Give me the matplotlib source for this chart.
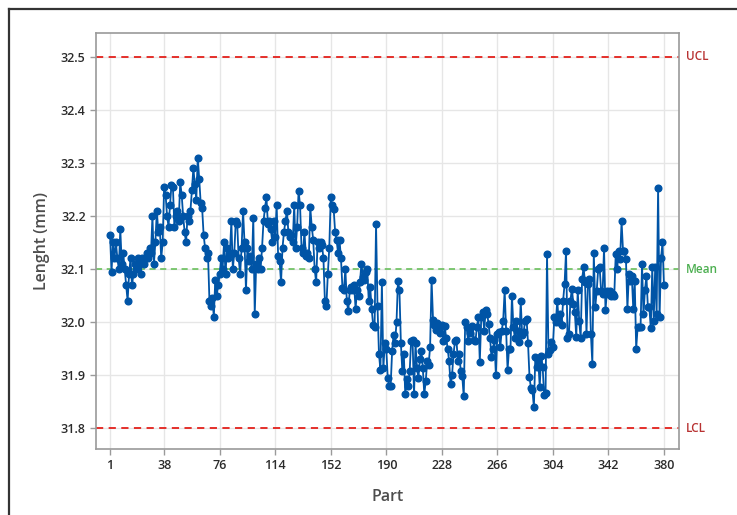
import matplotlib
matplotlib.use("Agg")
import matplotlib.pyplot as plt
from matplotlib.lines import Line2D
import numpy as np

plt.rcParams['font.family'] = ['Open Sans', 'DejaVu Sans']

seg_a = [32.165, 32.095, 32.15, 32.12, 32.15, 32.12, 32.10, 32.175, 32.11, 32.13,
         32.10, 32.07, 32.04, 32.09, 32.12, 32.07, 32.09, 32.11, 32.10, 32.12,
         32.11, 32.09, 32.12, 32.11, 32.12, 32.13, 32.12, 32.14, 32.13, 32.20,
         32.11, 32.15, 32.21, 32.17, 32.18, 32.12, 32.15, 32.255]
seg_b = [32.24, 32.20, 32.18, 32.22, 32.258, 32.255, 32.18, 32.20, 32.21, 32.19,
         32.263, 32.24, 32.20, 32.17, 32.15, 32.20, 32.19, 32.21, 32.248, 32.29,
         32.26, 32.23, 32.31, 32.27, 32.225, 32.215, 32.165, 32.14, 32.12, 32.13,
         32.04, 32.03, 32.045, 32.01, 32.08, 32.05, 32.07, 32.09]
seg_c = [32.12, 32.10, 32.15, 32.09, 32.14, 32.12, 32.13, 32.19, 32.10, 32.13,
         32.19, 32.185, 32.12, 32.09, 32.14, 32.21, 32.15, 32.06, 32.14, 32.115,
         32.125, 32.10, 32.197, 32.015, 32.11, 32.10, 32.12, 32.10, 32.14, 32.19,
         32.215, 32.235, 32.185, 32.19, 32.175, 32.15, 32.19, 32.16]
seg_d = [32.22, 32.125, 32.115, 32.075, 32.14, 32.17, 32.19, 32.21, 32.17, 32.16,
         32.165, 32.15, 32.22, 32.14, 32.18, 32.247, 32.22, 32.14, 32.13, 32.17,
         32.125, 32.13, 32.12, 32.216, 32.18, 32.155, 32.10, 32.075, 32.15, 32.14,
         32.15, 32.145, 32.12, 32.04, 32.03, 32.09, 32.14, 32.235]
seg_e = [32.22, 32.213, 32.17, 32.155, 32.13, 32.155, 32.12, 32.065, 32.06, 32.10,
         32.04, 32.02, 32.06, 32.067, 32.06, 32.07, 32.025, 32.06, 32.05, 32.075,
         32.11, 32.085, 32.08, 32.095, 32.10, 32.04, 32.066, 32.025, 31.995, 31.99,
         32.184, 32.03, 31.94, 31.91, 32.075, 31.913, 31.96, 31.95]
seg_f = [31.895, 31.88, 31.88, 31.945, 31.976, 31.96, 32.0, 32.078, 32.06, 31.96,
         31.907, 31.94, 31.864, 31.893, 31.88, 31.907, 31.964, 31.966, 31.864, 31.96,
         31.914, 31.895, 31.93, 31.945, 31.914, 31.864, 31.889, 31.926, 31.92, 31.954,
         32.08, 32.004, 31.995, 31.985, 31.998, 31.99, 31.98, 31.995]
seg_g = [31.965, 31.992, 31.97, 31.95, 31.926, 31.883, 31.90, 31.939, 31.964, 31.967,
         31.926, 31.939, 31.907, 31.898, 31.86, 32.0, 31.99, 31.964, 31.98, 31.99,
         31.993, 31.967, 31.964, 31.99, 32.01, 31.925, 32.009, 32.019, 31.984, 32.022,
         32.016, 31.997, 31.97, 31.935, 31.95, 31.966, 31.90, 31.978]
seg_h = [31.981, 31.953, 31.984, 32.003, 32.06, 31.984, 31.91, 31.95, 31.95, 32.05,
         31.99, 31.97, 32.003, 31.984, 31.962, 32.04, 31.975, 31.981, 32.003, 32.006,
         31.96, 31.897, 31.875, 31.872, 31.84, 31.934, 31.915, 31.928, 31.878, 31.937,
         31.915, 31.863, 31.866, 32.128, 31.94, 31.947, 31.962, 31.953]
seg_i = [32.01, 32.0, 32.04, 32.0, 32.016, 31.994, 32.04, 32.072, 32.134, 31.97,
         31.978, 32.04, 32.063, 32.035, 32.019, 31.972, 32.06, 32.003, 31.97, 32.081,
         32.103, 32.075, 31.978, 32.072, 32.081, 31.978, 31.922, 32.13, 32.028, 32.059,
         32.1, 32.103, 32.059, 32.053, 32.14, 32.022, 32.059, 32.053]
seg_j = [32.059, 32.05, 32.053, 32.05, 32.128, 32.1, 32.134, 32.119, 32.19, 32.134,
         32.134, 32.119, 32.025, 32.09, 32.078, 32.087, 32.025, 32.078, 31.95, 31.99,
         31.99, 31.99, 32.109, 32.015, 32.06, 32.087, 32.028, 32.028, 31.988, 32.103,
         32.003, 32.103, 32.015, 32.253, 32.009, 32.12, 32.15, 32.07]

lengths = seg_a + seg_b + seg_c + seg_d + seg_e + seg_f + seg_g + seg_h + seg_i + seg_j
parts = list(range(1, len(lengths) + 1))

ucl = 32.5
mean = 32.1
lcl = 31.8
xticks = [1, 38, 76, 114, 152, 190, 228, 266, 304, 342, 380]
yticks = [31.8, 31.9, 32.0, 32.1, 32.2, 32.3, 32.4, 32.5]

fig = plt.figure(figsize=(7.37, 5.15), dpi=100)
ax = fig.add_axes([0.1303, 0.1282, 0.9213 - 0.1303, 0.9353 - 0.1282])

# outer frame (cropped screenshot border)
fig.add_artist(Line2D([9/737, 9/737], [0, 1 - 9/515], transform=fig.transFigure,
                      color='#333333', lw=1.6))
fig.add_artist(Line2D([9/737, 1], [1 - 9/515, 1 - 9/515], transform=fig.transFigure,
                      color='#333333', lw=1.6))

ax.set_xlim(-8.6, 390.3)
ax.set_ylim(31.761, 32.544)
ax.set_xticks(xticks)
ax.set_yticks(yticks)
ax.set_yticklabels([f"{v:.1f}" for v in yticks])
ax.grid(True, color='#e6e6e6', lw=1.0)
ax.set_axisbelow(True)
for s in ax.spines.values():
    s.set_color('#9a9a9a')
    s.set_linewidth(1.2)
ax.tick_params(axis='both', colors='#9a9a9a', labelcolor='#2b2b2b', labelsize=9,
               length=4, width=1)
for lab in ax.get_xticklabels() + ax.get_yticklabels():
    lab.set_fontweight('semibold')

red = '#e3201b'
green = '#5dbb4f'
ax.axhline(ucl, color=red, ls=(0, (4, 3)), lw=1.3, zorder=2)
ax.axhline(lcl, color=red, ls=(0, (4, 3)), lw=1.3, zorder=2)
ax.axhline(mean, color=green, ls=(0, (4, 3)), lw=1.1, zorder=2)

ax.plot(parts, lengths, color='#0054a6', lw=1.3, marker='o', markersize=4.8,
        markerfacecolor='#0054a6', markeredgecolor='#0054a6', zorder=3)

ax.text(1.012, ucl, 'UCL', transform=ax.get_yaxis_transform(), color='#b83232',
        fontsize=8.5, va='center', ha='left', fontweight='semibold')
ax.text(1.012, mean, 'Mean', transform=ax.get_yaxis_transform(), color='#4caf50',
        fontsize=8.5, va='center', ha='left', fontweight='semibold')
ax.text(1.012, lcl, 'LCL', transform=ax.get_yaxis_transform(), color='#b83232',
        fontsize=8.5, va='center', ha='left', fontweight='semibold')

ax.set_xlabel('Part', color='#4d4d4d', fontsize=11.5, labelpad=12, fontweight='semibold')
ax.set_ylabel('Lenght (mm)', color='#4d4d4d', fontsize=11.5, labelpad=8, fontweight='semibold')

fig.savefig('out.png', dpi=100)
